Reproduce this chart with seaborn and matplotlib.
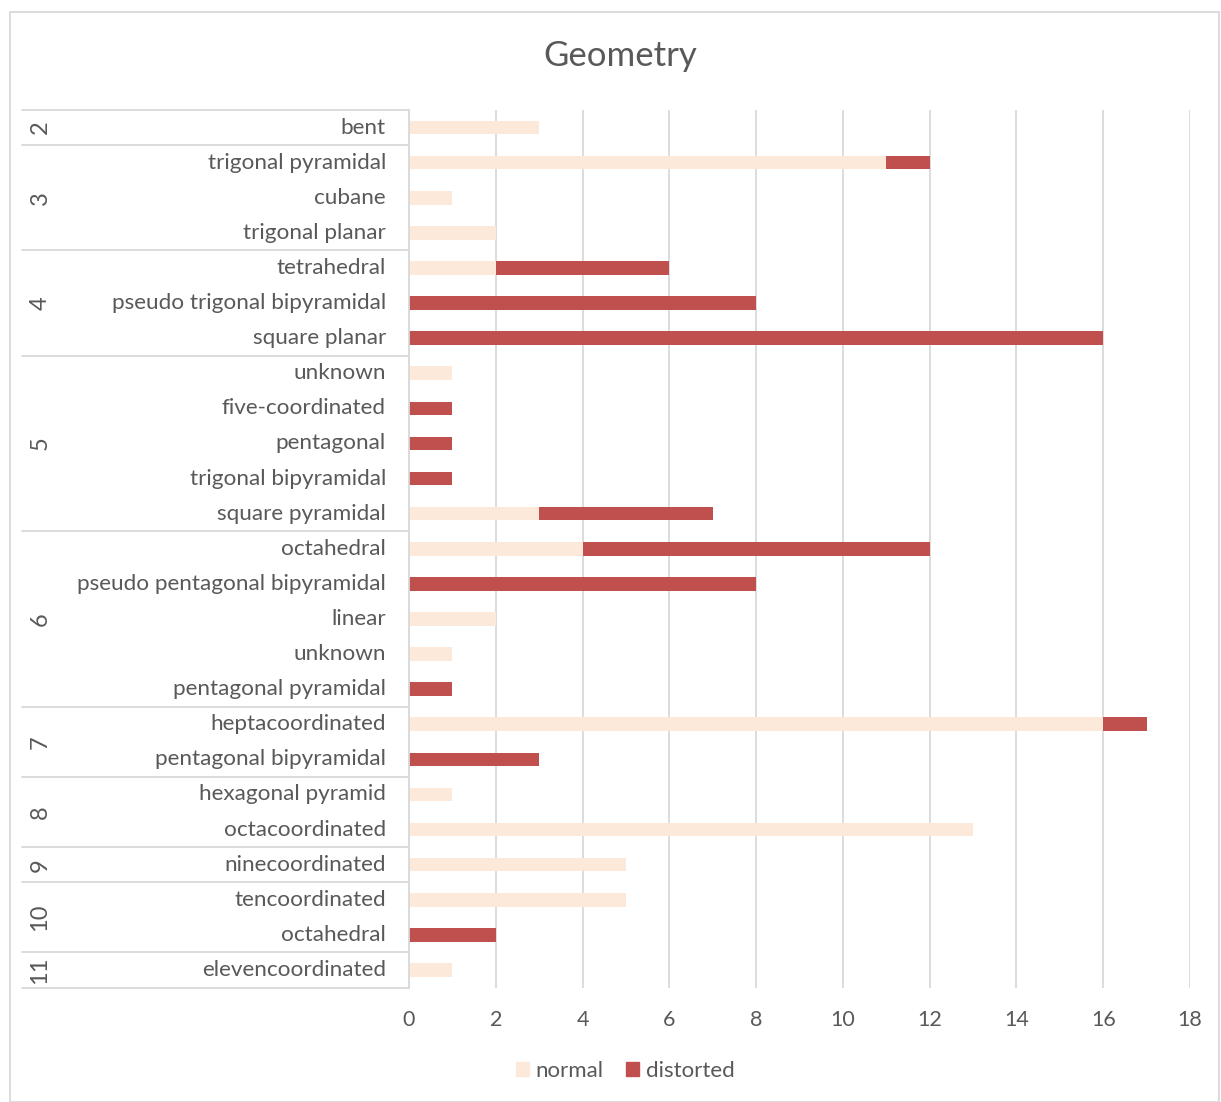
import matplotlib
matplotlib.use("Agg")
import matplotlib.pyplot as plt
import matplotlib.patches as mpatches
from matplotlib.lines import Line2D
import seaborn as sns
import pandas as pd

# Coordination number groups and the geometries within each group (top to bottom)
groups = ["2", "3", "4", "5", "6", "7", "8", "9", "10", "11"]
group_members = [
    ["bent"],
    ["trigonal pyramidal", "cubane", "trigonal planar"],
    ["tetrahedral", "pseudo trigonal bipyramidal", "square planar"],
    ["unknown", "five-coordinated", "pentagonal", "trigonal bipyramidal", "square pyramidal"],
    ["octahedral", "pseudo pentagonal bipyramidal", "linear", "unknown", "pentagonal pyramidal"],
    ["heptacoordinated", "pentagonal bipyramidal"],
    ["hexagonal pyramid", "octacoordinated"],
    ["ninecoordinated"],
    ["tencoordinated", "octahedral"],
    ["elevencoordinated"],
]
normal = [3, 11, 1, 2, 2, 0, 0, 1, 0, 0, 0, 3, 4, 0, 2, 1, 0, 16, 0, 1, 13, 5, 5, 0, 1]
distorted = [0, 1, 0, 0, 4, 8, 16, 0, 1, 1, 1, 4, 8, 8, 0, 0, 1, 1, 3, 0, 0, 0, 0, 2, 0]
x_ticks = [0, 2, 4, 6, 8, 10, 12, 14, 16, 18]

normal_color = "#FDE9D9"
distorted_color = "#C0504D"
text_color = "#595959"
line_color = "#D9D9D9"

names = [n for members in group_members for n in members]
group_of = [g for g, members in zip(groups, group_members) for _ in members]
normal = normal[:len(names)]
distorted = distorted[:len(names)]
keys = [f"{g}|{n}" for g, n in zip(group_of, names)]
df = pd.DataFrame({"key": keys, "name": names, "group": group_of,
                   "normal": normal, "distorted": distorted})
df["total"] = df["normal"] + df["distorted"]

sns.set_theme(style="white")
plt.rcParams["font.family"] = ["Lato", "DejaVu Sans"]

W, H = 1221, 1102
fig = plt.figure(figsize=(W / 100, H / 100), dpi=100)
ax = fig.add_axes([409 / W, 1 - 987.5 / H, (1190 - 409) / W, (987.5 - 110) / H])

# Stacked bars: full length in the distorted colour, normal part drawn on top
sns.barplot(data=df, x="total", y="key", order=keys, orient="h", color=distorted_color,
            saturation=1, width=0.39, linewidth=0, ax=ax)
sns.barplot(data=df, x="normal", y="key", order=keys, orient="h", color=normal_color,
            saturation=1, width=0.39, linewidth=0, ax=ax)

ax.set_xlim(0, 18)
ax.set_ylim(len(keys) - 0.5, -0.5)
ax.set_xticks(x_ticks)
ax.set_xticklabels([str(t) for t in x_ticks], color=text_color, fontsize=15.5)
ax.tick_params(axis="x", length=0, pad=16)
ax.set_yticks([])
ax.set_xlabel("")
ax.set_ylabel("")
for side in ["top", "right", "bottom"]:
    ax.spines[side].set_visible(False)
ax.spines["left"].set_color(line_color)
ax.spines["left"].set_linewidth(1.3)
ax.grid(axis="x", color=line_color, linewidth=1.3)
ax.set_axisbelow(True)

# Two-level category axis drawn to the left of the plot area
ytr = ax.get_yaxis_transform()
x_left = (22 - 409) / (1190 - 409)
x_name = (386 - 409) / (1190 - 409)
x_group = (40 - 409) / (1190 - 409)
for i, n in enumerate(names):
    ax.text(x_name, i, n, transform=ytr, ha="right", va="center",
            fontsize=16.2, color=text_color)
start = 0
bounds = [-0.5]
for g, members in zip(groups, group_members):
    end = start + len(members)
    ax.text(x_group, (start + end - 1) / 2, g, transform=ytr, ha="center", va="center",
            rotation=90, fontsize=17, color=text_color)
    bounds.append(end - 0.5)
    start = end
for b in bounds:
    ax.add_line(Line2D([x_left, 0], [b, b], transform=ytr, color=line_color,
                       linewidth=1.3, clip_on=False))

fig.text(620 / W, 1 - 56 / H, "Geometry", ha="center", va="center",
         fontsize=25, color=text_color)

handles = [mpatches.Patch(color=normal_color, label="normal"),
           mpatches.Patch(color=distorted_color, label="distorted")]
fig.legend(handles=handles, loc="center", bbox_to_anchor=(625 / W, 1 - 1071 / H),
           ncol=2, frameon=False, fontsize=16, handlelength=0.6, handleheight=0.6,
           handletextpad=0.3, columnspacing=1.0, labelcolor=text_color)

# Chart area border
fig.add_artist(mpatches.Rectangle((10 / W, 0.5 / H), (W - 12) / W, (H - 12.5) / H,
                                  transform=fig.transFigure, fill=False,
                                  edgecolor=line_color, linewidth=1.3))

fig.savefig("out.png", dpi=100)
